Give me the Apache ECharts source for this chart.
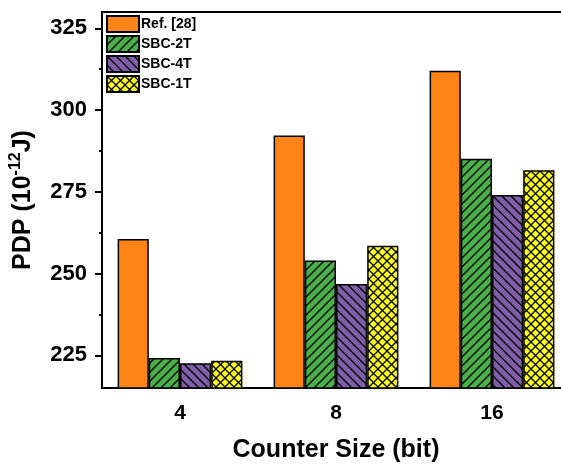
<!DOCTYPE html>
<html>
<head>
<meta charset="utf-8">
<script src="https://cdn.jsdelivr.net/npm/echarts@6/dist/echarts.min.js"></script>
<style>html,body{margin:0;padding:0;background:#fff;}#c{width:561px;height:465px;}</style>
</head>
<body>
<div id="c"></div>
<script>
const categories = ['4', '8', '16'];
const seriesNames = ['Ref. [28]', 'SBC-2T', 'SBC-4T', 'SBC-1T'];
const refValues = [260.6, 292.2, 312.0];
const sbc2tValues = [224.2, 254.0, 285.1];
const sbc4tValues = [222.6, 246.8, 274.0];
const sbc1tValues = [223.3, 258.5, 281.6];
const yMajorTicks = [225, 250, 275, 300, 325];
const yMinorTicks = [237.5, 262.5, 287.5, 312.5];

function pattern(bg, type) {
  const s = 9;
  const c = document.createElement('canvas');
  c.width = s; c.height = s;
  const g = c.getContext('2d');
  g.fillStyle = bg; g.fillRect(0, 0, s, s);
  g.strokeStyle = '#000'; g.lineWidth = 1.3;
  const fwd = () => {
    g.beginPath();
    g.moveTo(-1, s + 1); g.lineTo(s + 1, -1);
    g.moveTo(-2, 2); g.lineTo(2, -2);
    g.moveTo(s - 2, s + 2); g.lineTo(s + 2, s - 2);
    g.stroke();
  };
  const back = () => {
    g.beginPath();
    g.moveTo(-1, -1); g.lineTo(s + 1, s + 1);
    g.moveTo(-2, s - 2); g.lineTo(2, s + 2);
    g.moveTo(s - 2, -2); g.lineTo(s + 2, 2);
    g.stroke();
  };
  if (type === 'fwd') fwd();
  if (type === 'back') back();
  if (type === 'cross') { fwd(); back(); }
  return { image: c, repeat: 'repeat' };
}

const fills = [
  '#FF8418',
  pattern('#4BAF4A', 'fwd'),
  pattern('#7F5FA8', 'back'),
  pattern('#FFFF1E', 'cross')
];
const values = [refValues, sbc2tValues, sbc4tValues, sbc1tValues];

const chart = echarts.init(document.getElementById('c'), null, { renderer: 'canvas' });
const font = 'Arial, "Liberation Sans", sans-serif';

const option = {
  backgroundColor: '#fff',
  animation: false,
  grid: {
    left: 102, top: 12, right: -9, bottom: 77,
    outerBoundsMode: 'none', containLabel: false,
    show: true, borderColor: '#000', borderWidth: 2, backgroundColor: 'transparent'
  },
  legend: {
    orient: 'vertical', left: 106, top: 15, padding: 0,
    itemWidth: 32, itemHeight: 16, itemGap: 2,
    data: seriesNames,
    textStyle: { fontFamily: font, fontWeight: 'bold', fontSize: 14, color: '#000', padding: [0, 0, 0, -3] },
    icon: 'rect'
  },
  xAxis: [
    {
      type: 'category', data: categories, position: 'bottom',
      axisLine: { lineStyle: { color: '#000', width: 2 } },
      axisTick: { alignWithLabel: true, length: 6, lineStyle: { color: '#000', width: 2 } },
      axisLabel: { fontFamily: font, fontWeight: 'bold', fontSize: 21, color: '#000', margin: 15 },
      name: 'Counter Size (bit)', nameLocation: 'middle', nameGap: 50,
      nameTextStyle: { fontFamily: font, fontWeight: 'bold', fontSize: 25, color: '#000' }
    },
    {
      type: 'category', data: categories, position: 'bottom',
      axisLine: { show: false },
      axisTick: { alignWithLabel: false, length: 3, lineStyle: { color: '#000', width: 2 } },
      axisLabel: { show: false }
    }
  ],
  yAxis: [
    {
      type: 'value', min: 215, max: 330,
      axisLine: { show: true, lineStyle: { color: '#000', width: 2 } },
      axisTick: { show: true, customValues: yMajorTicks, length: 7, lineStyle: { color: '#000', width: 2 } },
      axisLabel: { customValues: yMajorTicks, fontFamily: font, fontWeight: 'bold', fontSize: 22, color: '#000', margin: 15 },
      splitLine: { show: false },
      name: '{a|PDP (10}{s|-12}{a|J)}', nameLocation: 'middle', nameRotate: 90, nameGap: 66,
      nameTextStyle: {
        rich: {
          a: { fontFamily: font, fontWeight: 'bold', fontSize: 25, color: '#000', lineHeight: 28, verticalAlign: 'bottom' },
          s: { fontFamily: font, fontWeight: 'bold', fontSize: 16, color: '#000', lineHeight: 28, verticalAlign: 'top' }
        }
      }
    },
    {
      type: 'value', min: 215, max: 330, position: 'left',
      axisLine: { show: false },
      axisTick: { show: true, customValues: yMinorTicks, length: 3, lineStyle: { color: '#000', width: 2 } },
      axisLabel: { show: false },
      splitLine: { show: false }
    }
  ],
  series: seriesNames.map((n, i) => ({
    name: n, type: 'bar', data: values[i],
    barGap: 0, barCategoryGap: '20%',
    itemStyle: { color: fills[i], borderColor: '#000', borderWidth: 1.5 }
  }))
};
chart.setOption(option);
</script>
</body>
</html>
